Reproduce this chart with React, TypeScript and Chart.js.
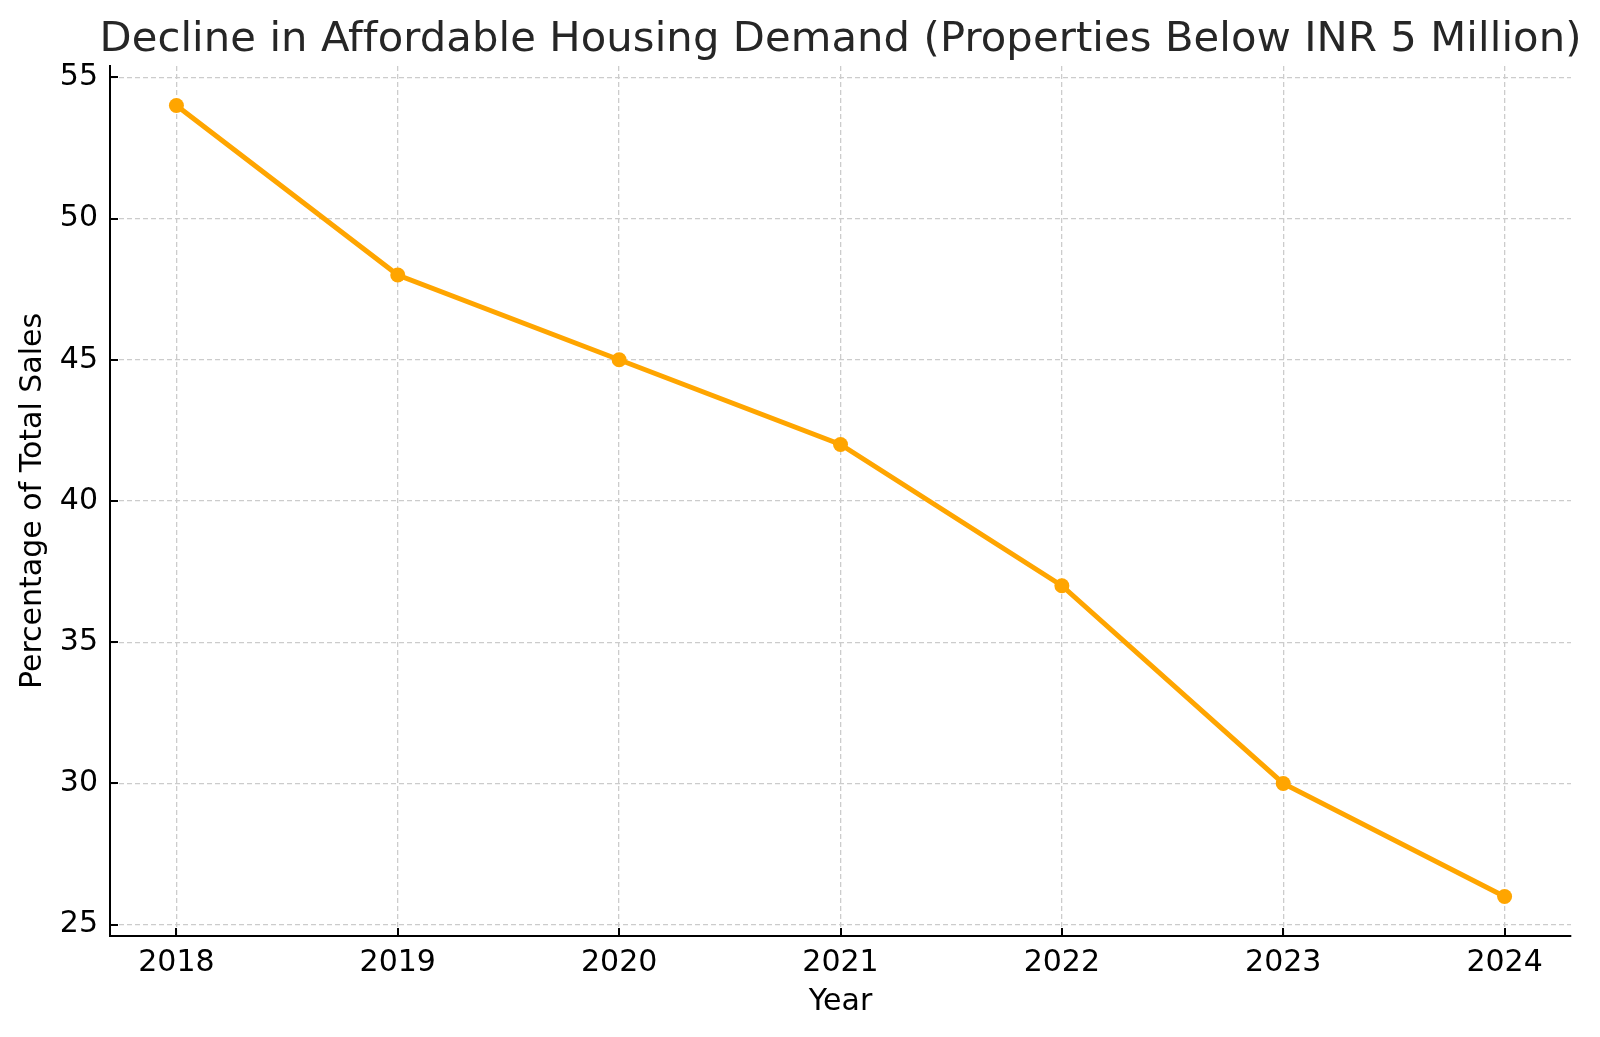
import React, { useEffect, useRef } from "react";
import { Chart, registerables } from "chart.js";

Chart.register(...registerables);

const titleText = "Decline in Affordable Housing Demand (Properties Below INR 5 Million)";
const xAxisTitle = "Year";
const yAxisTitle = "Percentage of Total Sales";
const years = [2018, 2019, 2020, 2021, 2022, 2023, 2024];
const shares = [54, 48, 45, 42, 37, 30, 26];
const yTicks = [25, 30, 35, 40, 45, 50, 55];

const FONT = "'DejaVu Sans', sans-serif";

const titlePlugin = {
  id: "customTitle",
  afterDraw(chart: any) {
    const { ctx, chartArea } = chart;
    ctx.save();
    ctx.font = `41.7px ${FONT}`;
    try {
      (ctx as any).letterSpacing = "0.1px";
    } catch (e) {}
    ctx.fillStyle = "#262626";
    ctx.textAlign = "center";
    ctx.textBaseline = "alphabetic";
    ctx.fillText(titleText, (chartArea.left + chartArea.right) / 2, 51);
    ctx.restore();
  },
};

const inwardTicks = {
  id: "inwardTicks",
  afterDraw(chart: any) {
    const { ctx, chartArea, scales } = chart;
    ctx.save();
    ctx.strokeStyle = "#000";
    ctx.lineWidth = 2;
    ctx.beginPath();
    for (const v of yTicks) {
      const y = Math.round(scales.y.getPixelForValue(v));
      ctx.moveTo(chartArea.left, y);
      ctx.lineTo(chartArea.left + 8, y);
    }
    for (const v of years) {
      const x = Math.round(scales.x.getPixelForValue(v));
      ctx.moveTo(x, chartArea.bottom);
      ctx.lineTo(x, chartArea.bottom - 8);
    }
    ctx.stroke();
    ctx.restore();
  },
};

export default function App() {
  const ref = useRef<HTMLCanvasElement | null>(null);
  useEffect(() => {
    if (!ref.current) return;
    const chart = new Chart(ref.current, {
      type: "line",
      data: {
        datasets: [
          {
            data: years.map((y, i) => ({ x: y, y: shares[i] })),
            borderColor: "#FFA500",
            backgroundColor: "#FFA500",
            borderWidth: 5,
            pointRadius: 7.5,
            pointBorderWidth: 0,
            pointBackgroundColor: "#FFA500",
            tension: 0,
          },
        ],
      },
      options: {
        animation: false,
        responsive: true,
        maintainAspectRatio: false,
        layout: { padding: { top: 66, right: 29, left: 0, bottom: 0 } },
        plugins: { legend: { display: false }, tooltip: { enabled: false }, title: { display: false } },
        scales: {
          x: {
            type: "linear",
            min: 2017.7,
            max: 2024.3,
            afterBuildTicks: (s: any) => {
              s.ticks = years.map((v) => ({ value: v }));
            },
            afterFit: (s: any) => {
              s.height = 101;
            },
            grid: { color: "#cccccc", lineWidth: 1.3, drawTicks: false },
            border: { display: true, color: "#000", width: 2, dash: [5, 3] },
            ticks: {
              padding: 9,
              color: "#000",
              font: { family: FONT, size: 30 },
              callback: (v: any) => String(v),
              maxRotation: 0,
              autoSkip: false,
            },
            title: {
              display: true,
              text: xAxisTitle,
              color: "#000",
              font: { family: FONT, size: 30 },
              padding: { top: 0, bottom: 17 },
            },
          },
          y: {
            type: "linear",
            min: 24.6,
            max: 55.4,
            afterBuildTicks: (s: any) => {
              s.ticks = yTicks.map((v) => ({ value: v }));
            },
            afterFit: (s: any) => {
              s.width = 110;
            },
            grid: { color: "#cccccc", lineWidth: 1.3, drawTicks: false },
            border: { display: true, color: "#000", width: 2, dash: [5, 3] },
            ticks: {
              padding: 12,
              color: "#000",
              font: { family: FONT, size: 30 },
              callback: (v: any) => String(v),
            },
            title: {
              display: true,
              text: yAxisTitle,
              color: "#000",
              font: { family: FONT, size: 30 },
              padding: { top: 15, bottom: 0 },
            },
          },
        },
      },
      plugins: [titlePlugin, inwardTicks],
    });
    return () => chart.destroy();
  }, []);
  return (
    <div style={{ position: "absolute", left: 0, top: 0, width: 1600, height: 1037 }}>
      <canvas ref={ref} />
    </div>
  );
}
